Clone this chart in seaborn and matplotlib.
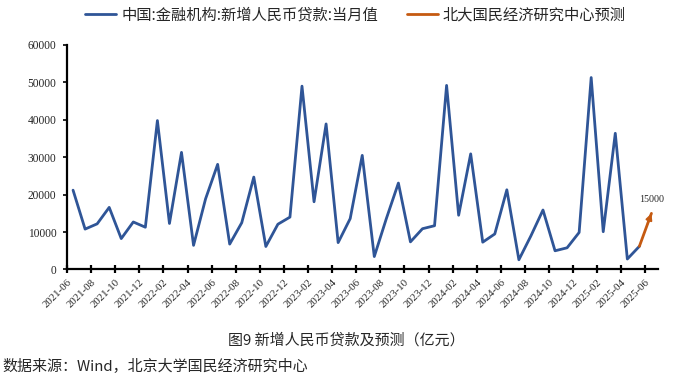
import matplotlib
matplotlib.use("Agg")
import matplotlib.pyplot as plt
import seaborn as sns
import pandas as pd
import numpy as np

months = pd.period_range("2021-06", "2025-05", freq="M").strftime("%Y-%m").tolist()
actual = [21200, 10800, 12200, 16600, 8262, 12700, 11300,
          39800, 12300, 31300, 6454, 18900, 28100, 6790, 12500, 24700, 6152, 12100, 14000,
          49000, 18100, 38900, 7188, 13600, 30500, 3459, 13600, 23100, 7384, 10900, 11700,
          49200, 14500, 30900, 7300, 9500, 21300, 2600, 9000, 15900, 5000, 5800, 9900,
          51300, 10100, 36400, 2800, 6200]
forecast_months = ["2025-05", "2025-06"]
forecast = [6200, 15000]
all_months = months + ["2025-06"]
tick_labels = all_months[::2]

s1 = "中国:金融机构:新增人民币贷款:当月值"
s2 = "北大国民经济研究中心预测"

sns.set_theme(style="white")
plt.rcParams["font.family"] = ["Noto Sans CJK SC", "DejaVu Sans"]

df1 = pd.DataFrame({"x": [all_months.index(m) for m in months], "y": actual})
df2 = pd.DataFrame({"x": [all_months.index(m) for m in forecast_months], "y": forecast})

fig = plt.figure(figsize=(6.75, 3.8), dpi=100)
ax = fig.add_axes([0.0993, 0.2908, 0.8756, 0.5908])

blue = "#2F5597"
orange = "#C55A11"
sns.lineplot(data=df1, x="x", y="y", ax=ax, color=blue, lw=2, label=s1, legend=False)
sns.lineplot(data=df2, x="x", y="y", ax=ax, color=orange, lw=2, label=s2, legend=False)
x0, x1 = df2["x"].iloc[-2], df2["x"].iloc[-1]
y0, y1 = df2["y"].iloc[-2], df2["y"].iloc[-1]
ax.annotate("", xy=(x1, y1), xytext=(x0 + 0.7 * (x1 - x0), y0 + 0.7 * (y1 - y0)),
            arrowprops=dict(arrowstyle="-|>,head_length=0.3,head_width=0.15", color=orange, lw=1.5,
                            shrinkA=0, shrinkB=0), annotation_clip=False)
ax.text(x1, y1 + 2500, f"{forecast[-1]}", ha="center", va="bottom",
        fontsize=7.2, family="Liberation Serif")

ax.set_xlim(-0.5, 48.55)
ax.set_ylim(0, 60000)
ax.set_yticks(np.arange(0, 60001, 10000))
ax.set_yticklabels([f"{v}" for v in range(0, 60001, 10000)], family="Liberation Serif", fontsize=8.3)
ax.set_xticks([i - 0.5 for i in range(0, len(all_months), 2)])
ax.set_xticklabels(tick_labels, rotation=45, ha="right", rotation_mode="anchor",
                   family="Liberation Serif", fontsize=7.8)
ax.set_xlabel("")
ax.set_ylabel("")
for sp in ["top", "right"]:
    ax.spines[sp].set_visible(False)
for sp in ["left", "bottom"]:
    ax.spines[sp].set_color("black")
    ax.spines[sp].set_linewidth(1.6)
ax.tick_params(axis="y", direction="out", length=3, width=1.2, color="black", pad=4.5, left=True)
ax.tick_params(axis="x", direction="inout", length=6, width=1.6, color="black", pad=3, bottom=True)

handles, labels = ax.get_legend_handles_labels()
fig.legend(handles, labels, loc="center", bbox_to_anchor=(0.527, 0.96), ncol=2, frameon=False,
           fontsize=11, handlelength=2.0, handletextpad=0.35, columnspacing=1.9)

fig.text(0.5125, 0.105, "图9 新增人民币贷款及预测（亿元）", ha="center", va="center", fontsize=10.8)
fig.text(0.004, 0.037, "数据来源：Wind，北京大学国民经济研究中心", ha="left", va="center", fontsize=10.8)

fig.savefig("out.png", dpi=100)
